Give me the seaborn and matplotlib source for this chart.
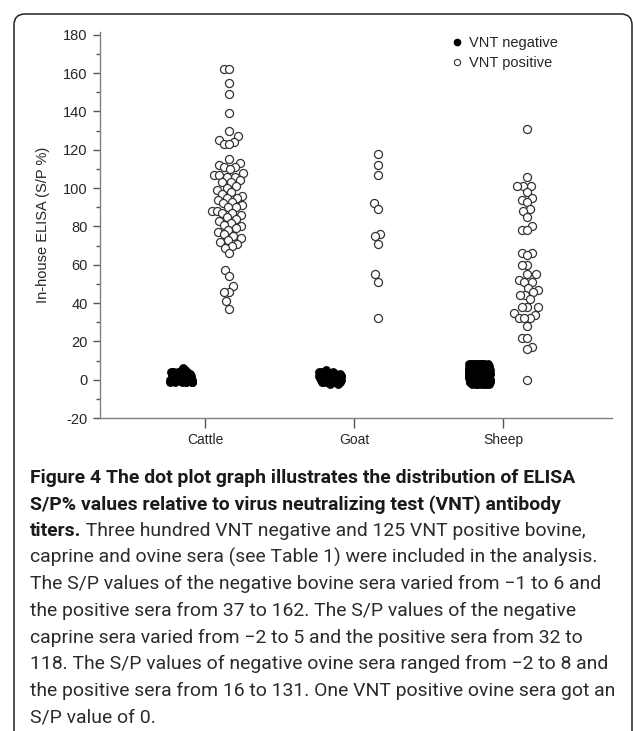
import numpy as np
import pandas as pd
import seaborn as sns
import matplotlib.pyplot as plt
import matplotlib.transforms as mtransforms
from matplotlib.lines import Line2D
from matplotlib.patches import FancyBboxPatch
from matplotlib.ticker import MultipleLocator
from matplotlib import font_manager

# ---- data ----
species = ["Cattle", "Goat", "Sheep"]

# VNT positive sera, S/P %
cattle_pos = [162, 162, 155, 149, 139, 130, 127, 125, 124, 123, 123,
              115, 113, 112, 111, 111, 110, 108, 107, 107, 106, 106, 104, 103, 103,
              101, 100, 99, 98, 97, 96, 95, 95, 94, 93, 92, 91, 90, 90, 88, 88, 87,
              87, 86, 85, 84, 83, 82, 81, 80, 79, 78, 77, 76, 75, 74, 73, 72, 71,
              70, 69, 66, 57, 54, 49, 46, 46, 41, 37]
goat_pos = [118, 112, 107, 92, 89, 76, 75, 71, 55, 51, 32]
sheep_pos = [131, 106, 101, 101, 101, 98, 95, 94, 93, 89, 88, 85, 80, 78, 78,
             66, 66, 65, 60, 60, 55, 55, 52, 51, 51, 48, 47, 46, 44, 44, 42,
             38, 38, 38, 35, 34, 32, 32, 32, 28, 22, 22, 17, 16, 0]

# VNT negative sera: S/P value and number of sera with that value
cattle_neg_sp = [-1, 0, 1, 2, 3, 4, 5, 6]
cattle_neg_n = [8, 22, 20, 16, 10, 6, 2, 1]
goat_neg_sp = [-2, -1, 0, 1, 2, 3, 4, 5]
goat_neg_n = [2, 10, 14, 12, 8, 5, 3, 1]
sheep_neg_sp = [-2, -1, 0, 1, 2, 3, 4, 5, 6, 7, 8]
sheep_neg_n = [8, 14, 16, 16, 16, 16, 16, 16, 16, 14, 12]

pos_by_species = {"Cattle": cattle_pos, "Goat": goat_pos, "Sheep": sheep_pos}
neg = pd.DataFrame({
    "species": np.repeat(species, [sum(cattle_neg_n), sum(goat_neg_n), sum(sheep_neg_n)]),
    "sp": np.concatenate([np.repeat(cattle_neg_sp, cattle_neg_n),
                          np.repeat(goat_neg_sp, goat_neg_n),
                          np.repeat(sheep_neg_sp, sheep_neg_n)]),
})

# ---- style ----
sns.set_style("white")
plt.rcParams["font.family"] = ["Liberation Sans", "DejaVu Sans"]
plt.rcParams["axes.unicode_minus"] = False

W, H = 633, 731
fig = plt.figure(figsize=(W / 100, H / 100), dpi=100)
ax = fig.add_axes([100 / W, 1 - 418 / H, 512 / W, 386 / H])

# negatives left of the category tick, positives right of it
shift = 0.16
left_tr = mtransforms.Affine2D().translate(-shift, 0) + ax.transData

np.random.seed(4)
sns.stripplot(data=neg, x="species", y="sp", order=species, color="black",
              jitter=0.075, size=5.8, edgecolor="black", linewidth=0.5,
              transform=left_tr, ax=ax)

# positives: swarm per species, squeezed sideways so the dots overlap like the original
squeeze = 0.55
for i, sp in enumerate(species):
    sub = pd.DataFrame({"species": sp, "sp": pos_by_species[sp]})
    tr = (mtransforms.Affine2D().translate(-i, 0).scale(squeeze, 1).translate(i + shift, 0)
          + ax.transData)
    sns.swarmplot(data=sub, x="species", y="sp", order=species, color="white",
                  edgecolor="#333333", linewidth=0.9, size=5.8,
                  transform=tr, ax=ax, warn_thresh=1)

ax.set_xlim(-0.705, 2.73)
ax.set_ylim(-20, 181.5)
ax.set_yticks(range(-20, 181, 20))
ax.yaxis.set_minor_locator(MultipleLocator(10))

sns.despine(ax=ax)
for s in ["left", "bottom"]:
    ax.spines[s].set_color("#808080")
    ax.spines[s].set_linewidth(1)
ax.tick_params(axis="y", which="major", direction="out", length=5, width=1,
               color="#555555", labelsize=10.5, pad=4, left=True)
ax.tick_params(axis="y", which="minor", direction="out", length=3, width=1,
               color="#555555", left=True)
ax.tick_params(axis="x", direction="out", length=7.5, width=1,
               color="#555555", labelsize=10, pad=3, bottom=True)
ax.set_xlabel("")
ax.set_ylabel("In-house ELISA (S/P %)", fontsize=10.5, labelpad=9)

handles = [
    Line2D([], [], ls="none", marker="o", ms=4.5, mfc="black", mec="black", label="VNT negative"),
    Line2D([], [], ls="none", marker="o", ms=4.5, mfc="white", mec="#333333", mew=0.8, label="VNT positive"),
]
ax.legend(handles=handles, loc="upper left", bbox_to_anchor=(453 / W, 1 - 36 / H),
          bbox_transform=fig.transFigure, frameon=False, fontsize=10.5,
          handlelength=0.6, handletextpad=0.5, labelspacing=0.4,
          borderpad=0, borderaxespad=0)

# rounded frame around figure + caption
frame = FancyBboxPatch((14, -30), 618, H - 14 + 30,
                       boxstyle="round,pad=0,rounding_size=11",
                       transform=mtransforms.IdentityTransform(),
                       facecolor="none", edgecolor="#222222", linewidth=1.1)
fig.add_artist(frame)

# ---- caption ----
names = {f.name for f in font_manager.fontManager.ttflist}
cap_font = "Open Sans"
for cand in ["Liberation Sans Narrow", "Roboto", "Open Sans"]:
    if cand in names:
        cap_font = cand
        break
fam = [cap_font, "DejaVu Sans"]

cap_lines = [
    ("Figure 4 The dot plot graph illustrates the distribution of ELISA", ""),
    ("S/P% values relative to virus neutralizing test (VNT) antibody", ""),
    ("titers.", " Three hundred VNT negative and 125 VNT positive bovine,"),
    ("", "caprine and ovine sera (see Table 1) were included in the analysis."),
    ("", "The S/P values of the negative bovine sera varied from \u22121 to 6 and"),
    ("", "the positive sera from 37 to 162. The S/P values of the negative"),
    ("", "caprine sera varied from \u22122 to 5 and the positive sera from 32 to"),
    ("", "118. The S/P values of negative ovine sera ranged from \u22122 to 8 and"),
    ("", "the positive sera from 16 to 131. One VNT positive ovine sera got an"),
    ("", "S/P value of 0."),
]
targets = [589, 565, 561, 567, 578, 545, 559, 582, 588, None]

x0 = 30
base_y = 483
gap = 26.6
base_size = 14
artists = []
for i, (b, r) in enumerate(cap_lines):
    y = 1 - (base_y + i * gap) / H
    tb = fig.text(x0 / W, y, b, fontsize=base_size, fontweight="bold", family=fam,
                  color="#1a1a1a", va="baseline", ha="left") if b else None
    tr = fig.text(x0 / W, y, r, fontsize=base_size, family=fam,
                  color="#2b2b2b", va="baseline", ha="left") if r else None
    artists.append((tb, tr))

fig.canvas.draw()
renderer = fig.canvas.get_renderer()


def line_width(tb, tr):
    w = 0
    if tb is not None:
        w += tb.get_window_extent(renderer).width
    if tr is not None:
        w += tr.get_window_extent(renderer).width
    return w


ratios = [t / line_width(*a) for t, a in zip(targets, artists) if t]
size = base_size * float(np.median(ratios))
for tb, tr in artists:
    for t in (tb, tr):
        if t is not None:
            t.set_fontsize(size)
fig.canvas.draw()
tb, tr = artists[2]
tr.set_x((x0 + tb.get_window_extent(renderer).width) / W)

fig.savefig("out.png", dpi=100)
